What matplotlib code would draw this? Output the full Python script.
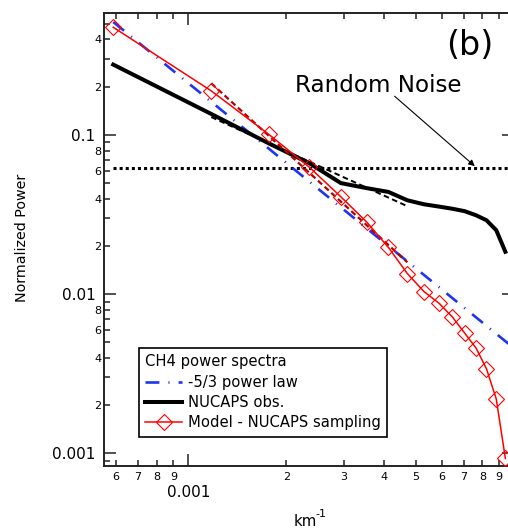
import matplotlib
matplotlib.use('Agg')
import matplotlib.pyplot as plt
from matplotlib.ticker import FixedLocator, FixedFormatter

plt.rcParams['font.family'] = ['DejaVu Sans']
plt.rcParams['lines.scale_dashes'] = False

# ---------------- data ----------------
wavenumber = [0.000588, 0.001176, 0.001764, 0.002352, 0.00294, 0.003528,
              0.004116, 0.004704, 0.005292, 0.00588, 0.006468, 0.007056,
              0.007644, 0.008232, 0.00882, 0.009408]
model_power = [0.477, 0.190, 0.1015, 0.063, 0.041, 0.0285, 0.0197, 0.0135,
               0.0104, 0.0088, 0.0072, 0.0057, 0.0046, 0.0034, 0.0022, 0.00093]
obs_power = [0.278, 0.136, 0.089, 0.0667, 0.0500, 0.0465, 0.0440, 0.0390,
             0.0368, 0.0356, 0.0345, 0.0333, 0.0314, 0.0292, 0.0253, 0.0185]

powerlaw_x = [0.000588, 0.01]
powerlaw_y = [0.515, 0.00458]

model_fit_x = [0.001176, 0.004704]
model_fit_y = [0.212, 0.0159]
obs_fit_x = [0.001176, 0.004704]
obs_fit_y = [0.130, 0.0358]

noise_x = [0.000588, 0.01]
noise_level = 0.0618

x_major = [0.001, 0.01]
x_major_labels = ['0.001', '']
x_minor = [6e-4, 7e-4, 8e-4, 9e-4, 2e-3, 3e-3, 4e-3, 5e-3, 6e-3, 7e-3, 8e-3, 9e-3]
x_minor_labels = ['6', '7', '8', '9', '2', '3', '4', '5', '6', '7', '8', '9']
y_major = [0.001, 0.01, 0.1]
y_major_labels = ['0.001', '0.01', '0.1']
y_minor_mult = [2, 3, 4, 5, 6, 7, 8, 9]
y_minor_mult_labels = ['2', '', '4', '', '6', '', '8', '']
y_decades = [0.0001, 0.001, 0.01, 0.1]

# ---------------- figure ----------------
W, H = 508, 528
fig = plt.figure(figsize=(W / 100, H / 100), dpi=100)
L, R, T, B = 104.3, 514.0, 13.3, 465.5
ax = fig.add_axes([L / W, 1 - B / H, (R - L) / W, (B - T) / H])
ax.set_xscale('log')
ax.set_yscale('log')
ax.set_xlim(0.000552, 0.01)
ax.set_ylim(0.000839, 0.584)

ax.plot(noise_x, [noise_level, noise_level], color='black', lw=2.2,
        linestyle=(0, (2.2, 2.2)), dash_capstyle='butt', zorder=2)
lb, = ax.plot(powerlaw_x, powerlaw_y, color='#1f35f0', lw=1.9,
              linestyle=(0, (10, 6.5, 0.8, 6.5)), dash_capstyle='butt',
              label='-5/3 power law', zorder=3)
lk, = ax.plot(wavenumber, obs_power, color='black', lw=2.9,
              solid_joinstyle='round', label='NUCAPS obs.', zorder=4)
ax.plot(obs_fit_x, obs_fit_y, color='black', lw=1.4,
        linestyle=(0, (4, 2.5)), zorder=4)
ax.plot(model_fit_x, model_fit_y, color='#b00000', lw=1.6,
        linestyle=(0, (4, 2.5)), zorder=5)
lr, = ax.plot(wavenumber, model_power, color='red', lw=1.1, marker='D',
              ms=7.8, mfc='none', mec='red', mew=0.8,
              label='Model - NUCAPS sampling', zorder=6)

# ticks
ax.xaxis.set_major_locator(FixedLocator(x_major))
ax.xaxis.set_major_formatter(FixedFormatter(x_major_labels))
ax.xaxis.set_minor_locator(FixedLocator(x_minor))
ax.xaxis.set_minor_formatter(FixedFormatter(x_minor_labels))
ymin_pos, ymin_lab = [], []
for d in y_decades:
    for m, lab in zip(y_minor_mult, y_minor_mult_labels):
        ymin_pos.append(m * d)
        ymin_lab.append(lab)
ax.yaxis.set_major_locator(FixedLocator(y_major))
ax.yaxis.set_major_formatter(FixedFormatter(y_major_labels))
ax.yaxis.set_minor_locator(FixedLocator(ymin_pos))
ax.yaxis.set_minor_formatter(FixedFormatter(ymin_lab))

ax.tick_params(which='both', direction='in', top=True, right=True,
               color='#222222', width=1.1)
ax.tick_params(which='major', length=8.5)
ax.tick_params(which='minor', length=4.6)
ax.tick_params(axis='x', which='major', labelsize=11, pad=14)
ax.tick_params(axis='x', which='minor', labelsize=8, pad=5)
ax.tick_params(axis='y', which='major', labelsize=11, pad=6.5)
ax.tick_params(axis='y', which='minor', labelsize=8, pad=2)
for s in ax.spines.values():
    s.set_linewidth(1.4)
    s.set_color('#222222')

# texts
ax.text(0.00384, 0.187, 'Random Noise', fontsize=16.6, ha='center',
        va='baseline')
ax.annotate('', xy=(0.00758, 0.0639), xytext=(0.0043, 0.1758),
            arrowprops=dict(arrowstyle='-|>', lw=0.8, color='black',
                            mutation_scale=9, shrinkA=0, shrinkB=0))
ax.text(0.00730, 0.318, '(b)', fontsize=24, ha='center', va='baseline')

fig.text(22 / W, 1 - 238 / H, 'Normalized Power', rotation=90,
         fontsize=10.3, ha='center', va='center')
fig.text(305 / W, 1 - 526.5 / H, 'km', fontsize=10.8, ha='center',
         va='baseline')
fig.text(320.5 / W, 1 - 517 / H, '-1', fontsize=8, ha='center',
         va='baseline')

leg = ax.legend(handles=[lb, lk, lr], title='CH4 power spectra',
                loc='upper left', bbox_to_anchor=(0.0854, 0.2592),
                frameon=True, fancybox=False, framealpha=1,
                edgecolor='black', fontsize=10.6, title_fontsize=10.6,
                handlelength=2.45, handletextpad=0.45, borderpad=0.42,
                labelspacing=0.36, borderaxespad=0, alignment='left')
leg.get_frame().set_linewidth(1.2)
leg.set_zorder(10)

fig.savefig('out.png', dpi=100)
